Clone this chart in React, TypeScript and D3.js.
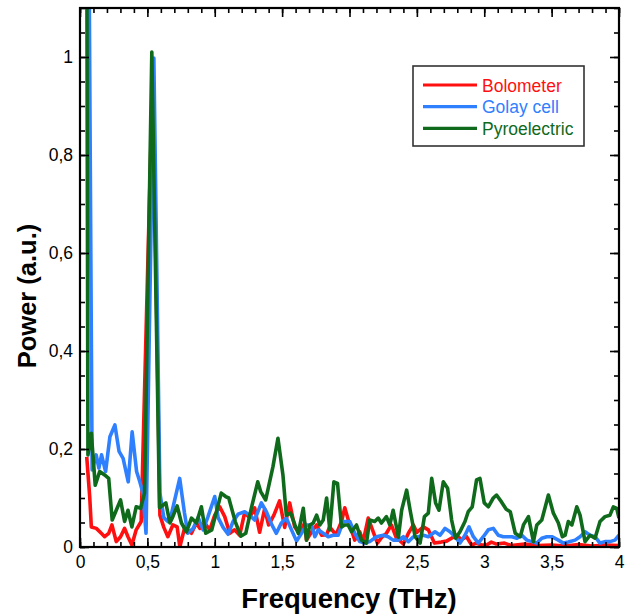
import React, { useEffect, useRef } from "react";
import * as d3 from "d3";

// Bolometer (red)
const bolometerFreq = [
  0.05, 0.072, 0.084, 0.121, 0.158, 0.183, 0.213, 0.237, 0.269, 0.301, 0.331, 0.356, 0.385, 0.417, 0.454,
  0.54, 0.593, 0.622, 0.652, 0.689, 0.721, 0.741, 0.778, 0.8, 0.827, 0.864, 0.889, 0.926, 0.963, 1.0,
  1.037, 1.074, 1.111, 1.148, 1.185, 1.222, 1.259, 1.296, 1.333, 1.37, 1.4, 1.439, 1.481, 1.519, 1.556,
  1.593, 1.63, 1.667, 1.681, 1.719, 1.756, 1.793, 1.83, 1.852, 1.9, 1.941, 1.965, 2.002, 2.039, 2.076,
  2.101, 2.139, 2.176, 2.207, 2.24, 2.274, 2.311, 2.348, 2.37, 2.4, 2.437, 2.474, 2.5, 2.548, 2.585,
  2.63, 2.68, 2.72, 2.795, 2.83, 2.869, 2.906, 2.94, 2.979, 3.017, 3.053, 3.091, 3.15, 3.2, 3.3, 3.4, 3.5,
  3.6, 3.7, 3.8, 3.9, 4.0,
];
const bolometerPower = [
  0.184, 0.103, 0.041, 0.038, 0.028, 0.021, 0.028, 0.045, 0.011, 0.021, 0.038, 0.021, 0.004, 0.035, 0.052,
  0.97, 0.065, 0.04, 0.021, 0.045, 0.041, 0.0, 0.041, 0.035, 0.028, 0.049, 0.038, 0.049, 0.035, 0.065,
  0.082, 0.062, 0.028, 0.035, 0.024, 0.07, 0.06, 0.08, 0.03, 0.078, 0.045, 0.065, 0.094, 0.04, 0.09,
  0.041, 0.028, 0.049, 0.014, 0.031, 0.045, 0.024, 0.025, 0.041, 0.025, 0.052, 0.08, 0.045, 0.014, 0.031,
  0.011, 0.059, 0.031, 0.008, 0.02, 0.028, 0.045, 0.018, 0.014, 0.006, 0.028, 0.045, 0.03, 0.041, 0.035,
  0.008, 0.01, 0.012, 0.024, 0.015, 0.021, 0.004, 0.008, 0.004, 0.004, 0.01, 0.006, 0.008, 0.003, 0.006,
  0.003, 0.004, 0.002, 0.005, 0.002, 0.004, 0.003,
];

// Golay cell (blue)
const golayFreq = [
  0.065, 0.09, 0.12, 0.14, 0.16, 0.19, 0.222, 0.259, 0.29, 0.32, 0.358, 0.387, 0.42, 0.444, 0.467, 0.49,
  0.548, 0.593, 0.622, 0.652, 0.68, 0.74, 0.775, 0.8, 0.84, 0.877, 0.914, 0.95, 1.0, 1.025, 1.062, 1.099,
  1.136, 1.173, 1.222, 1.259, 1.296, 1.346, 1.383, 1.424, 1.457, 1.494, 1.531, 1.568, 1.607, 1.644, 1.681,
  1.719, 1.743, 1.768, 1.805, 1.842, 1.879, 1.916, 1.953, 2.002, 2.039, 2.076, 2.113, 2.15, 2.2, 2.25,
  2.287, 2.324, 2.363, 2.4, 2.437, 2.474, 2.511, 2.548, 2.585, 2.635, 2.672, 2.709, 2.746, 2.783, 2.82,
  2.857, 2.887, 2.919, 2.956, 2.993, 3.03, 3.067, 3.104, 3.141, 3.205, 3.243, 3.279, 3.316, 3.353, 3.39,
  3.427, 3.464, 3.501, 3.55, 3.587, 3.624, 3.674, 3.711, 3.748, 3.785, 3.822, 3.859, 3.896, 3.933, 3.97,
  4.0,
];
const golayPower = [
  1.3, 0.157, 0.188, 0.161, 0.188, 0.154, 0.225, 0.249, 0.195, 0.181, 0.133, 0.235, 0.154, 0.133, 0.11, 0.028,
  0.998, 0.11, 0.06, 0.052, 0.069, 0.14, 0.07, 0.028, 0.038, 0.06, 0.035, 0.062, 0.103, 0.06, 0.04, 0.026,
  0.052, 0.067, 0.072, 0.065, 0.055, 0.09, 0.072, 0.045, 0.028, 0.049, 0.059, 0.036, 0.012, 0.028, 0.045,
  0.045, 0.021, 0.035, 0.028, 0.021, 0.024, 0.024, 0.052, 0.052, 0.028, 0.011, 0.008, 0.011, 0.021, 0.024,
  0.021, 0.014, 0.014, 0.021, 0.011, 0.021, 0.021, 0.024, 0.021, 0.031, 0.024, 0.038, 0.031, 0.021, 0.008,
  0.024, 0.041, 0.021, 0.008, 0.021, 0.035, 0.038, 0.024, 0.021, 0.021, 0.018, 0.024, 0.014, 0.011, 0.008,
  0.018, 0.021, 0.021, 0.014, 0.008, 0.01, 0.014, 0.021, 0.031, 0.024, 0.021, 0.008, 0.011, 0.011, 0.014,
  0.024,
];

// Pyroelectric (green)
const pyroFreq = [
  0.05, 0.059, 0.084, 0.113, 0.146, 0.183, 0.213, 0.239, 0.269, 0.301, 0.331, 0.356, 0.385, 0.417, 0.45,
  0.479, 0.533, 0.59, 0.637, 0.667, 0.689, 0.721, 0.753, 0.79, 0.827, 0.864, 0.901, 0.933, 0.978, 1.048,
  1.081, 1.104, 1.152, 1.193, 1.23, 1.272, 1.319, 1.341, 1.378, 1.432, 1.469, 1.506, 1.531, 1.563, 1.595,
  1.62, 1.657, 1.681, 1.706, 1.731, 1.756, 1.78, 1.805, 1.83, 1.854, 1.884, 1.911, 1.941, 1.965, 1.99,
  2.015, 2.052, 2.089, 2.126, 2.15, 2.187, 2.213, 2.237, 2.274, 2.299, 2.324, 2.363, 2.387, 2.424, 2.45,
  2.487, 2.524, 2.556, 2.585, 2.61, 2.639, 2.664, 2.696, 2.728, 2.758, 2.787, 2.82, 2.857, 2.881, 2.911,
  2.943, 2.968, 3.0, 3.03, 3.067, 3.091, 3.128, 3.163, 3.193, 3.23, 3.267, 3.291, 3.328, 3.365, 3.39,
  3.427, 3.476, 3.513, 3.55, 3.58, 3.6, 3.624, 3.65, 3.687, 3.711, 3.748, 3.785, 3.822, 3.859, 3.896,
  3.933, 3.958, 3.983, 4.0,
];
const pyroPower = [
  1.3, 0.188, 0.232, 0.126, 0.154, 0.147, 0.14, 0.055, 0.075, 0.096, 0.052, 0.075, 0.041, 0.082, 0.079,
  0.11, 1.01, 0.08, 0.09, 0.049, 0.062, 0.084, 0.049, 0.031, 0.059, 0.049, 0.082, 0.028, 0.035, 0.11,
  0.103, 0.1, 0.052, 0.022, 0.028, 0.08, 0.133, 0.113, 0.096, 0.164, 0.222, 0.147, 0.065, 0.069, 0.045,
  0.028, 0.079, 0.014, 0.045, 0.049, 0.065, 0.045, 0.055, 0.1, 0.035, 0.133, 0.13, 0.041, 0.045, 0.045,
  0.031, 0.045, 0.014, 0.008, 0.055, 0.052, 0.059, 0.049, 0.062, 0.045, 0.075, 0.02, 0.075, 0.116, 0.075,
  0.021, 0.008, 0.062, 0.069, 0.14, 0.09, 0.075, 0.133, 0.12, 0.055, 0.018, 0.031, 0.052, 0.072, 0.082,
  0.137, 0.14, 0.09, 0.082, 0.1, 0.106, 0.092, 0.077, 0.072, 0.028, 0.021, 0.045, 0.062, 0.011, 0.045,
  0.055, 0.106, 0.069, 0.049, 0.021, 0.024, 0.052, 0.045, 0.082, 0.065, 0.011, 0.024, 0.018, 0.052, 0.062,
  0.065, 0.082, 0.079, 0.059,
];

const seriesNames = ["Bolometer", "Golay cell", "Pyroelectric"];
const seriesColors = ["#ff1010", "#2f80ff", "#0f6a1c"];
const xTicks = [0, 0.5, 1, 1.5, 2, 2.5, 3, 3.5, 4];
const yTicks = [0, 0.2, 0.4, 0.6, 0.8, 1];

const fmt = (d: number) => String(d).replace(".", ",");
const FONT = "Arial, 'Liberation Sans', sans-serif";

function Chart() {
  const ref = useRef<SVGSVGElement>(null);

  useEffect(() => {
    document.body.style.margin = "0";
    const svg = d3.select(ref.current);
    svg.selectAll("*").remove();

    const left = 80, right = 619, top = 8, bottom = 547;
    const x = d3.scaleLinear().domain([0, 4]).range([left, right]);
    const y = d3.scaleLinear().domain([0, 1.1]).range([bottom, top]);

    svg
      .append("defs")
      .append("clipPath")
      .attr("id", "plot-clip")
      .append("rect")
      .attr("x", left)
      .attr("y", top)
      .attr("width", right - left)
      .attr("height", bottom - top);

    const series = [
      { freq: bolometerFreq, power: bolometerPower },
      { freq: golayFreq, power: golayPower },
      { freq: pyroFreq, power: pyroPower },
    ];

    const line = d3
      .line<[number, number]>()
      .x((d) => x(d[0]))
      .y((d) => y(d[1]));

    const plot = svg.append("g").attr("clip-path", "url(#plot-clip)");
    series.forEach((s, i) => {
      const pts: [number, number][] = s.freq.map((f, j) => [f, s.power[j]]);
      plot
        .append("path")
        .datum(pts)
        .attr("fill", "none")
        .attr("stroke", seriesColors[i])
        .attr("stroke-width", 3.6)
        .attr("stroke-linejoin", "round")
        .attr("d", line);
    });

    // axes (ticks pointing inward)
    const axisStyle = (g: any) => {
      g.select(".domain").remove();
      g.selectAll("line").attr("stroke", "#000").attr("stroke-width", 1.6);
      g.selectAll("text")
        .attr("font-family", FONT)
        .attr("font-size", 17.5)
        .attr("fill", "#000");
    };

    const xMinor = d3.range(0, 41).map((i) => i / 10);
    const yMinor = d3.range(0, 23).map((i) => i / 20);

    svg.append("g").attr("transform", `translate(0,${bottom})`)
      .call(d3.axisBottom(x).tickValues(xMinor).tickSize(-5).tickFormat(() => "")).call(axisStyle);
    svg.append("g").attr("transform", `translate(0,${bottom})`)
      .call(d3.axisBottom(x).tickValues(xTicks).tickSize(-9).tickPadding(9).tickFormat((d: any) => fmt(d))).call(axisStyle);
    svg.append("g").attr("transform", `translate(0,${top})`)
      .call(d3.axisTop(x).tickValues(xMinor).tickSize(-5).tickFormat(() => "")).call(axisStyle);
    svg.append("g").attr("transform", `translate(0,${top})`)
      .call(d3.axisTop(x).tickValues(xTicks).tickSize(-9).tickFormat(() => "")).call(axisStyle);

    svg.append("g").attr("transform", `translate(${left},0)`)
      .call(d3.axisLeft(y).tickValues(yMinor).tickSize(-5).tickFormat(() => "")).call(axisStyle);
    svg.append("g").attr("transform", `translate(${left},0)`)
      .call(d3.axisLeft(y).tickValues(yTicks).tickSize(-9).tickPadding(7).tickFormat((d: any) => fmt(d))).call(axisStyle);
    svg.append("g").attr("transform", `translate(${right},0)`)
      .call(d3.axisRight(y).tickValues(yMinor).tickSize(-5).tickFormat(() => "")).call(axisStyle);
    svg.append("g").attr("transform", `translate(${right},0)`)
      .call(d3.axisRight(y).tickValues(yTicks).tickSize(-9).tickFormat(() => "")).call(axisStyle);

    svg
      .append("rect")
      .attr("x", left)
      .attr("y", top)
      .attr("width", right - left)
      .attr("height", bottom - top)
      .attr("fill", "none")
      .attr("stroke", "#000")
      .attr("stroke-width", 2.2);

    // axis titles
    svg
      .append("text")
      .attr("x", 349)
      .attr("y", 608)
      .attr("text-anchor", "middle")
      .attr("font-family", FONT)
      .attr("font-weight", "bold")
      .attr("font-size", 27.5)
      .text("Frequency (THz)");

    svg
      .append("text")
      .attr("transform", "translate(36,296) rotate(-90)")
      .attr("text-anchor", "middle")
      .attr("font-family", FONT)
      .attr("font-weight", "bold")
      .attr("font-size", 25.5)
      .text("Power (a.u.)");

    // legend
    const legend = svg.append("g");
    legend
      .append("rect")
      .attr("x", 413)
      .attr("y", 66)
      .attr("width", 171)
      .attr("height", 80)
      .attr("fill", "#fff")
      .attr("stroke", "#333")
      .attr("stroke-width", 1.6);
    seriesNames.forEach((name, i) => {
      const ly = 85 + i * 21.7;
      legend
        .append("line")
        .attr("x1", 423)
        .attr("x2", 477)
        .attr("y1", ly)
        .attr("y2", ly)
        .attr("stroke", seriesColors[i])
        .attr("stroke-width", 3.2);
      legend
        .append("text")
        .attr("x", 482)
        .attr("y", ly + 6.5)
        .attr("font-family", FONT)
        .attr("font-size", 17.5)
        .attr("fill", seriesColors[i])
        .text(name);
    });
  }, []);

  return <svg ref={ref} width={644} height={616} style={{ display: "block", background: "#fff" }} />;
}

export default function App() {
  return <Chart />;
}
